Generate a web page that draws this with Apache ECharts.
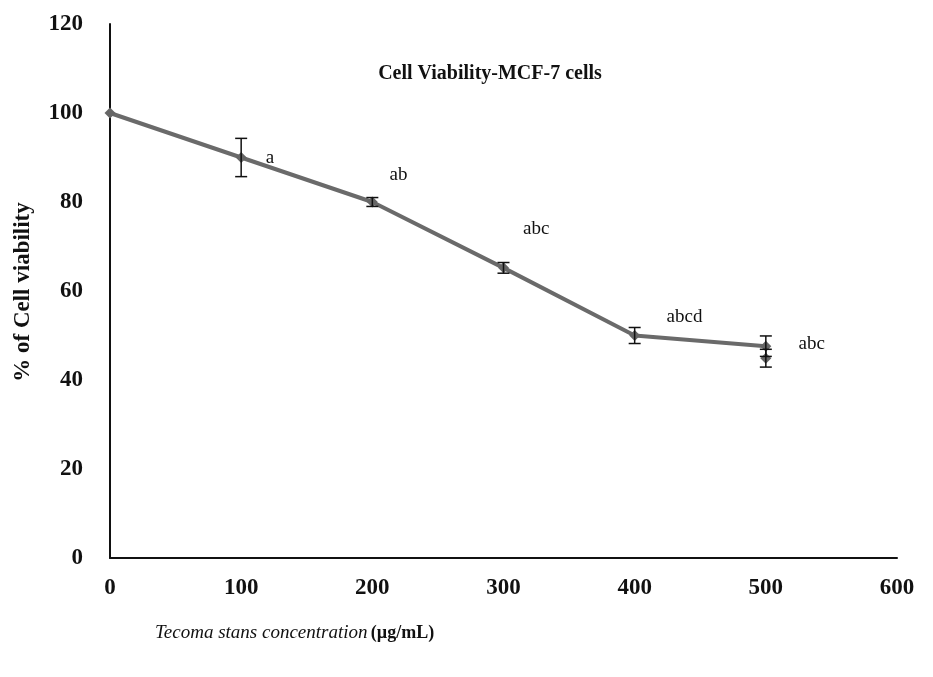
<!DOCTYPE html>
<html>
<head>
<meta charset="utf-8">
<script src="https://cdn.jsdelivr.net/npm/echarts@6/dist/echarts.min.js"></script>
<style>html,body{margin:0;padding:0;background:#fff}#c{width:933px;height:677px}</style>
</head>
<body>
<div id="c"></div>
<script>
// Data
var concentrations = [0, 100, 200, 300, 400, 500];
var viability = [100, 90, 80, 65.2, 50, 47.6];
var errors = [0, 4.3, 1, 1.2, 1.8, 2.3];
var extraPoint = [[500, 44.9]];
var extraError = [2.0];
var annotationText = ['a', 'ab', 'abc', 'abcd', 'abc'];
var annotationPos = [[122, 89.8], [220, 86], [325, 74], [438, 54.2], [535, 48]];
var xTicks = [0, 100, 200, 300, 400, 500, 600];
var yTicks = [0, 20, 40, 60, 80, 100, 120];

var mainData = concentrations.map(function (c, i) { return [c, viability[i]]; });
var errData = concentrations.map(function (c, i) { return [c, viability[i] - errors[i], viability[i] + errors[i]]; })
  .filter(function (d) { return d[2] > d[1]; });
extraPoint.forEach(function (p, i) { errData.push([p[0], p[1] - extraError[i], p[1] + extraError[i]]); });
var annData = annotationPos.map(function (p, i) { return { value: p, label: { formatter: annotationText[i] } }; });

var chart = echarts.init(document.getElementById('c'));
var serif = '"Liberation Serif", "Times New Roman", serif';
chart.setOption({
  backgroundColor: '#fff',
  animation: false,
  title: {
    text: 'Cell Viability-MCF-7 cells',
    left: 485, top: 59, textAlign: 'center',
    textStyle: { fontFamily: serif, fontWeight: 'bold', fontSize: 20, color: '#111' }
  },
  grid: { left: 110, right: 36, top: 24, bottom: 119 },
  xAxis: {
    type: 'value', min: 0, max: 600, interval: 100,
    axisLine: { show: true, lineStyle: { color: '#111', width: 2 } },
    axisTick: { show: false },
    splitLine: { show: false },
    axisLabel: { margin: 19, fontFamily: serif, fontWeight: 'bold', fontSize: 23, color: '#111',
      formatter: function (v) { return xTicks.indexOf(v) >= 0 ? String(v) : ''; } }
  },
  yAxis: {
    type: 'value', min: 0, max: 120, interval: 20,
    axisLine: { show: true, lineStyle: { color: '#111', width: 2 } },
    axisTick: { show: false },
    splitLine: { show: false },
    axisLabel: { margin: 27, fontFamily: serif, fontWeight: 'bold', fontSize: 23, color: '#111',
      formatter: function (v) { return yTicks.indexOf(v) >= 0 ? String(v) : ''; } }
  },
  graphic: [
    {
      type: 'text', x: 23, y: 292, rotation: Math.PI / 2,
      style: { text: '% of Cell viability', fontFamily: serif, fontWeight: 'bold', fontSize: 23, fill: '#111', align: 'center', verticalAlign: 'middle' }
    },
    {
      type: 'text', x: 155, y: 633,
      style: {
        text: '{i|Tecoma stans concentration} {b|(µg/mL)}',
        verticalAlign: 'middle',
        rich: {
          i: { fontFamily: serif, fontStyle: 'italic', fontSize: 19, fill: '#111' },
          b: { fontFamily: serif, fontWeight: 'bold', fontSize: 18, fill: '#111' }
        }
      }
    }
  ],
  series: [
    {
      type: 'line', data: mainData, symbol: 'diamond', symbolSize: 11,
      lineStyle: { color: '#6a6a6a', width: 4 },
      itemStyle: { color: '#666' }, z: 3
    },
    {
      type: 'scatter', data: extraPoint, symbol: 'diamond', symbolSize: 11,
      itemStyle: { color: '#666', opacity: 1 }, z: 3
    },
    {
      type: 'custom', data: errData, z: 4,
      renderItem: function (params, api) {
        var lo = api.coord([api.value(0), api.value(1)]);
        var hi = api.coord([api.value(0), api.value(2)]);
        var w = 6;
        var st = { stroke: '#111', lineWidth: 1.5 };
        return {
          type: 'group', children: [
            { type: 'line', shape: { x1: lo[0], y1: lo[1], x2: hi[0], y2: hi[1] }, style: st },
            { type: 'line', shape: { x1: lo[0] - w, y1: lo[1], x2: lo[0] + w, y2: lo[1] }, style: st },
            { type: 'line', shape: { x1: hi[0] - w, y1: hi[1], x2: hi[0] + w, y2: hi[1] }, style: st }
          ]
        };
      }
    },
    {
      type: 'scatter', data: annData, symbolSize: 0, silent: true,
      itemStyle: { opacity: 1 },
      label: { show: true, position: 'inside', fontFamily: serif, fontSize: 19, color: '#111' }
    }
  ]
});
</script>
</body>
</html>
